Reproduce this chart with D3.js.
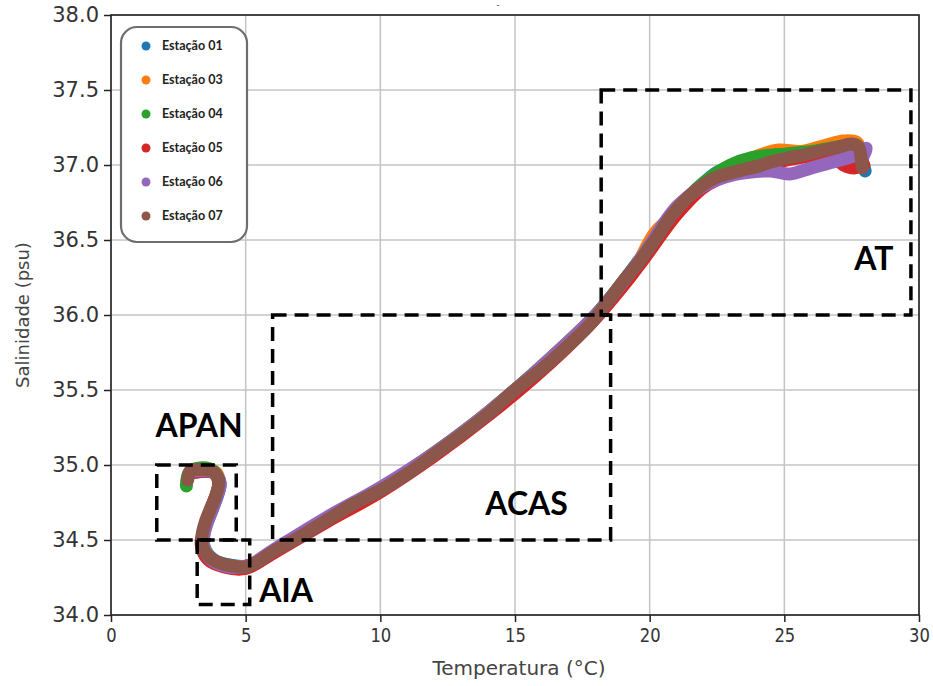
<!DOCTYPE html>
<html>
<head>
<meta charset="utf-8">
<script src="https://cdn.jsdelivr.net/npm/d3@7"></script>
<style>
  html, body { margin: 0; padding: 0; background: #fff; }
  svg { display: block; }
</style>
</head>
<body>
<svg id="chart" width="933" height="686"></svg>
<script>
// T-S diagram, values: [temperature, salinity]
const xTicks = [0, 5, 10, 15, 20, 25, 30];
const yTicks = [34.0, 34.5, 35.0, 35.5, 36.0, 36.5, 37.0, 37.5, 38.0];

const stationNames = ['Estação 01', 'Estação 03', 'Estação 04', 'Estação 05', 'Estação 06', 'Estação 07'];
const stationColors = ['#1f77b4', '#ff7f0e', '#2ca02c', '#d62728', '#9467bd', '#8c564b'];

const st01 = [[3.0,34.95],[3.8,34.95],[4.05,34.88],[3.8,34.72],[3.5,34.58],[3.45,34.46],[3.8,34.37],[4.5,34.33],[5.2,34.33],[6,34.42],[8,34.63],[10,34.84],[12,35.07],[14,35.34],[16,35.65],[18,36.0],[19.6,36.36],[21,36.7],[22,36.88],[22.6,36.96],[23.5,37.0],[24.5,37.03],[25.5,37.07],[26.5,37.1],[27.4,37.12],[27.8,37.06],[28.0,36.96]];
const st03 = [[3.0,34.96],[3.9,34.95],[4.0,34.87],[3.7,34.7],[3.45,34.55],[3.45,34.45],[3.8,34.36],[4.6,34.32],[5.3,34.34],[6,34.42],[8,34.64],[10,34.84],[12,35.08],[14,35.35],[16,35.66],[18,36.0],[19.3,36.26],[20.2,36.55],[21,36.68],[22,36.86],[23,36.97],[24,37.06],[24.8,37.1],[25.6,37.09],[26.5,37.13],[27.2,37.16],[27.7,37.15],[27.9,37.05]];
const st04 = [[2.8,34.86],[2.9,34.95],[3.3,34.98],[3.8,34.96],[4.0,34.88],[3.75,34.72],[3.5,34.6],[3.4,34.48],[3.65,34.38],[4.3,34.33],[5,34.32],[6,34.42],[8,34.63],[10,34.84],[12,35.08],[14,35.35],[16,35.66],[18,36.0],[19.6,36.36],[21,36.7],[22,36.88],[23,37.0],[23.8,37.05],[24.8,37.07],[26,37.09],[27,37.12],[27.7,37.13],[27.9,37.02]];
const st05 = [[3.0,34.95],[3.8,34.95],[4.0,34.88],[3.75,34.72],[3.45,34.57],[3.35,34.47],[3.6,34.37],[4.2,34.32],[5,34.31],[6,34.41],[8,34.62],[10,34.82],[12,35.06],[14,35.33],[16,35.63],[18,35.98],[19.6,36.33],[21,36.67],[22,36.85],[23,36.94],[24,36.99],[25,37.03],[26,37.06],[26.8,37.06],[27.2,37.0],[27.6,36.98],[27.95,37.0]];
const st06 = [[3.0,34.96],[3.8,34.95],[4.05,34.88],[3.85,34.75],[3.55,34.6],[3.4,34.48],[3.7,34.37],[4.4,34.32],[5.1,34.33],[6,34.43],[8,34.65],[10,34.85],[12,35.08],[14,35.35],[16,35.66],[18,36.0],[19.6,36.36],[21,36.72],[22,36.86],[22.8,36.92],[23.6,36.95],[24.5,36.96],[25.2,36.94],[26,36.98],[27,37.03],[27.7,37.07],[28.05,37.11],[27.9,37.05]];
const st07 = [[2.85,34.9],[2.95,34.96],[3.3,34.97],[3.75,34.96],[4.0,34.9],[3.9,34.8],[3.72,34.72],[3.5,34.62],[3.38,34.53],[3.4,34.45],[3.62,34.39],[4.0,34.35],[4.4,34.33],[5.0,34.32],[5.5,34.36],[6.0,34.42],[7.0,34.52],[8.0,34.63],[9.0,34.74],[10.0,34.83],[11.0,34.94],[12.0,35.07],[13.0,35.2],[14.0,35.34],[15.0,35.5],[16.0,35.64],[17.0,35.8],[17.8,35.94],[18.5,36.1],[19.0,36.22],[19.6,36.35],[20.2,36.5],[20.8,36.66],[21.4,36.78],[22.0,36.87],[22.5,36.92],[23.3,36.96],[24.0,36.99],[24.5,37.02],[25.2,37.05],[25.8,37.07],[26.5,37.1],[27.0,37.12],[27.5,37.14],[27.75,37.12],[27.85,37.05],[27.9,36.98]];

const stationData = [st01, st03, st04, st05, st06, st07];

// water mass boxes: T min, T max, S min, S max
const massNames = ['AT', 'ACAS', 'APAN', 'AIA'];
const massBoxes = [[18.2, 29.7, 36.0, 37.5], [6.0, 18.55, 34.5, 36.0], [1.7, 4.65, 34.5, 35.0], [3.2, 5.15, 34.07, 34.5]];
const massLabelAt = [[27.6, 36.3], [13.9, 34.67], [1.65, 35.19], [5.5, 34.09]];

const d3svg = d3.select('#chart');
const margins = { top: 15, right: 14, bottom: 71, left: 111 };
const width = 933, height = 686;

const xScale = d3.scaleLinear().domain([0, 30]).range([margins.left, width - margins.right]);
const yScale = d3.scaleLinear().domain([34, 38]).range([height - margins.bottom, margins.top]);

// grid
const grid = d3svg.append('g');
grid.selectAll('.gx').data(xTicks).enter().append('line')
  .attr('x1', d => xScale(d)).attr('x2', d => xScale(d))
  .attr('y1', yScale(34)).attr('y2', yScale(38))
  .attr('stroke', '#c4c4c4').attr('stroke-width', 1.5);
grid.selectAll('.gy').data(yTicks).enter().append('line')
  .attr('y1', d => yScale(d)).attr('y2', d => yScale(d))
  .attr('x1', xScale(0)).attr('x2', xScale(30))
  .attr('stroke', '#c4c4c4').attr('stroke-width', 1.5);

// station curves
const line = d3.line()
  .x(d => xScale(d[0]))
  .y(d => yScale(d[1]))
  .curve(d3.curveCatmullRom);

stationData.forEach((pts, i) => {
  d3svg.append('path')
    .datum(pts)
    .attr('fill', 'none')
    .attr('stroke', stationColors[i])
    .attr('stroke-width', 13)
    .attr('stroke-linejoin', 'round')
    .attr('stroke-linecap', 'round')
    .attr('d', line);
});

// frame
d3svg.append('rect')
  .attr('x', xScale(0)).attr('y', yScale(38))
  .attr('width', xScale(30) - xScale(0)).attr('height', yScale(34) - yScale(38))
  .attr('fill', 'none').attr('stroke', '#222').attr('stroke-width', 1.6);

// axes
const xAxis = d3svg.append('g')
  .attr('transform', `translate(0,${yScale(34)})`)
  .call(d3.axisBottom(xScale).tickValues(xTicks).tickFormat(d3.format('d')).tickSizeOuter(0).tickSize(7).tickPadding(6));
xAxis.select('.domain').remove();
xAxis.selectAll('line').attr('stroke', '#222').attr('stroke-width', 1.5);
xAxis.selectAll('text')
  .attr('font-family', 'DejaVu Sans').attr('font-size', 20).attr('fill', '#333')
  .attr('transform', 'scale(0.82,1)');

const yAxis = d3svg.append('g')
  .attr('transform', `translate(${xScale(0)},0)`)
  .call(d3.axisLeft(yScale).tickValues(yTicks).tickFormat(d3.format('.1f')).tickSizeOuter(0).tickSize(7).tickPadding(5));
yAxis.select('.domain').remove();
yAxis.selectAll('line').attr('stroke', '#222').attr('stroke-width', 1.5);
yAxis.selectAll('text')
  .attr('font-family', 'DejaVu Sans').attr('font-size', 21).attr('fill', '#333');

// axis titles
d3svg.append('text')
  .attr('x', (xScale(0) + xScale(30)) / 2 + 4).attr('y', 675)
  .attr('text-anchor', 'middle')
  .attr('font-family', 'DejaVu Sans').attr('font-size', 20).attr('fill', '#444')
  .text('Temperatura (°C)');

d3svg.append('text')
  .attr('transform', `translate(29,${(yScale(34) + yScale(38)) / 2}) rotate(-90)`)
  .attr('text-anchor', 'middle')
  .attr('font-family', 'DejaVu Sans').attr('font-size', 18).attr('fill', '#444')
  .text('Salinidade (psu)');

d3svg.append('text')
  .attr('x', 498).attr('y', 8)
  .attr('text-anchor', 'middle')
  .attr('font-family', 'DejaVu Sans').attr('font-size', 8).attr('fill', '#333')
  .text('-');

// water mass boxes
massBoxes.forEach((b, i) => {
  d3svg.append('rect')
    .attr('x', xScale(b[0])).attr('y', yScale(b[3]))
    .attr('width', xScale(b[1]) - xScale(b[0]))
    .attr('height', yScale(b[2]) - yScale(b[3]))
    .attr('fill', 'none').attr('stroke', '#000')
    .attr('stroke-width', 3.5).attr('stroke-dasharray', '14,8');
  d3svg.append('text')
    .attr('x', xScale(massLabelAt[i][0])).attr('y', yScale(massLabelAt[i][1]))
    .attr('font-family', 'Lato').attr('font-weight', 700).attr('font-size', 32).attr('fill', '#000')
    .text(massNames[i]);
});

// legend
const legend = d3svg.append('g').attr('transform', 'translate(121,27)');
legend.append('rect')
  .attr('width', 126).attr('height', 215).attr('rx', 16)
  .attr('fill', '#fff').attr('stroke', '#6e6e6e').attr('stroke-width', 2.2);
stationNames.forEach((name, i) => {
  const row = legend.append('g').attr('transform', `translate(0,${19 + i * 34})`);
  row.append('circle').attr('cx', 25).attr('cy', 0).attr('r', 4.5).attr('fill', stationColors[i]);
  row.append('text').attr('x', 41).attr('y', 4)
    .attr('font-family', 'Lato').attr('font-weight', 700).attr('font-size', 12.5).attr('fill', '#222')
    .text(name);
});
</script>
</body>
</html>
